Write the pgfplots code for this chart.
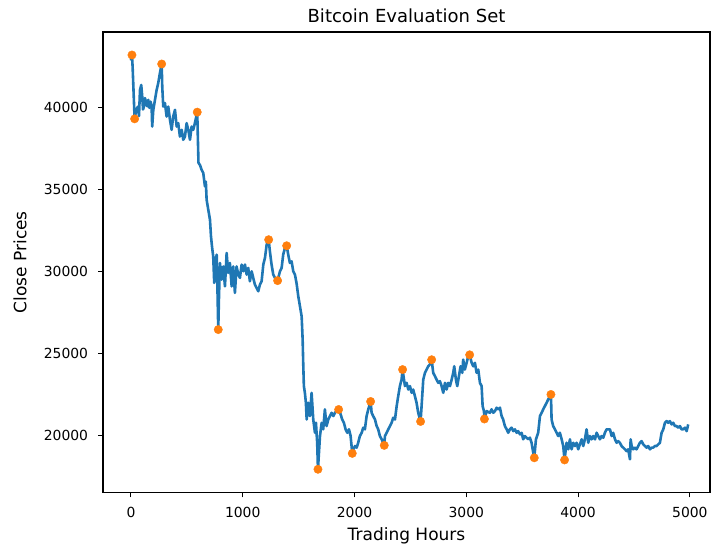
\documentclass[border=0pt]{standalone}
\usepackage{pgfplots}
\pgfplotsset{compat=1.18}
\usepackage{fontspec}
\setmainfont{DejaVu Sans}
\definecolor{mplblue}{HTML}{1F77B4}
\definecolor{mplorange}{HTML}{FF7F0E}

\pgfplotstableread{
x y
0 42900
9 43230
15 42500
20 41600
25 40700
29 40000
33 39330
48 39900
63 40080
72 39500
81 41100
92 41400
101 40690
108 39900
116 40080
125 40600
134 40380
145 40100
155 40490
165 40000
176 40380
185 40080
190 38860
200 39880
215 40490
230 41100
244 41510
259 42120
275 42680
280 41300
289 40080
304 40290
319 39470
334 40080
349 39270
364 38660
378 39470
394 39880
409 38860
423 39070
438 38250
454 38660
468 38050
483 38250
498 39070
513 38660
528 38050
543 38860
557 38660
572 39070
593 39740
599 38050
604 36650
618 36500
632 36220
647 36020
662 35200
670 35500
677 34390
692 33780
707 33170
716 32150
725 31540
736 30930
745 29310
756 30610
767 31040
774 28900
781 26460
787 28290
796 30530
811 29510
826 30320
841 29100
856 31140
870 29920
885 30530
901 29100
915 30320
930 28700
945 30320
960 29820
975 29620
990 30430
1005 30020
1020 30430
1035 29820
1049 30230
1064 29410
1080 30020
1094 29620
1109 29210
1124 29010
1139 28800
1154 29210
1169 29410
1184 30430
1199 30840
1214 31650
1232 31950
1243 31240
1258 30430
1273 29820
1288 29620
1312 29450
1333 30020
1348 30230
1362 31040
1378 31450
1393 31580
1407 31040
1422 30530
1437 30630
1452 30020
1467 29820
1482 29270
1497 28490
1512 27880
1527 27270
1536 25850
1541 24430
1547 23010
1556 22600
1565 21990
1572 20970
1586 21990
1601 21180
1616 22600
1631 20970
1646 20160
1655 20770
1666 19550
1673 17930
1691 19960
1706 20770
1720 20370
1735 21590
1750 20570
1765 20970
1780 21180
1795 21380
1810 21180
1825 21380
1840 21480
1858 21580
1876 21280
1890 20970
1905 20770
1920 20370
1935 20160
1950 20370
1965 19960
1980 18900
1989 19150
2004 19350
2019 19250
2033 19550
2048 19960
2064 20160
2078 20470
2093 20370
2108 21180
2123 21590
2144 22070
2153 21380
2167 21180
2183 20970
2198 20570
2212 20370
2227 19960
2243 19760
2266 19390
2272 19960
2287 20160
2302 20370
2317 20570
2332 20770
2346 21080
2362 20970
2377 21790
2391 22400
2406 23010
2421 23410
2430 24020
2451 23010
2466 23210
2481 22800
2496 23010
2511 22600
2525 22800
2540 22400
2555 21990
2570 21380
2591 20850
2600 21790
2615 23410
2630 23820
2645 24020
2659 24220
2674 24330
2690 24620
2704 23820
2719 23620
2734 23410
2749 23210
2764 23310
2779 23010
2794 22600
2809 23210
2824 22800
2838 23210
2854 23010
2869 23410
2883 23820
2892 24220
2907 23410
2919 23010
2934 23620
2949 24220
2964 23820
2972 24630
2987 24020
3003 24430
3017 24840
3030 24920
3048 24430
3062 24220
3077 24430
3092 23820
3107 24020
3122 23210
3137 23010
3146 21790
3158 21480
3162 21000
3182 21480
3211 21380
3226 21590
3241 21380
3256 21480
3271 21690
3286 21590
3301 21690
3316 21180
3330 20970
3345 20570
3361 20370
3375 20160
3390 20370
3405 20470
3420 20260
3435 20370
3450 20160
3464 20260
3480 20060
3495 20160
3509 19760
3524 19960
3539 19860
3554 19760
3569 19860
3584 19550
3599 18940
3608 18630
3623 19760
3643 20160
3659 21180
3674 21380
3688 21590
3703 21790
3718 21990
3733 22200
3757 22500
3763 20970
3777 20570
3793 20370
3808 20160
3822 19960
3837 20160
3853 19760
3867 19350
3879 18500
3897 19550
3912 19150
3927 19760
3942 19150
3957 19550
3972 19350
3987 19550
4001 19150
4016 19450
4032 19760
4046 19350
4061 19760
4076 20370
4091 19550
4106 19960
4121 19760
4135 19960
4151 19760
4166 20160
4180 19960
4195 19760
4210 19960
4225 19860
4240 20160
4255 20370
4270 20370
4285 20370
4300 19960
4314 20160
4330 19760
4345 19550
4359 19650
4374 19550
4389 19350
4404 19250
4419 19150
4434 19040
4448 19150
4464 18540
4470 19760
4479 19350
4493 19150
4508 19250
4523 19150
4538 19350
4553 19550
4568 19650
4583 19450
4598 19350
4613 19250
4627 19350
4643 19150
4658 19250
4672 19250
4687 19350
4702 19350
4717 19450
4732 19550
4747 20160
4762 20370
4777 20770
4792 20870
4806 20770
4821 20870
4837 20670
4851 20770
4866 20570
4881 20570
4896 20470
4911 20570
4926 20370
4940 20370
4956 20470
4971 20260
4985 20670
}\pricedata

\pgfplotstableread{
x y
9 43230
33 39330
275 42680
593 39740
781 26460
1232 31950
1312 29450
1393 31580
1673 17930
1858 21580
1980 18900
2144 22070
2266 19390
2430 24020
2591 20850
2690 24620
3030 24920
3162 21000
3608 18630
3757 22500
3879 18500
}\extremadata

\begin{document}
\begin{tikzpicture}
\begin{axis}[
  scale only axis, width=607pt, height=460.5pt,
  xmin=-250, xmax=5180, ymin=16512, ymax=44634,
  xtick={0,1000,2000,3000,4000,5000},
  ytick={20000,25000,30000,35000,40000},
  scaled ticks=false,
  /pgf/number format/1000 sep={},
  /pgf/number format/assume math mode=true,
  tick pos=left, tick align=outside, major tick length=4.9pt,
  every tick/.style={black, line width=1.1pt},
  axis line style={black, line width=1.1pt},
  ticklabel style={font=\fontsize{13.9}{16}\selectfont},
  xticklabel style={anchor=base, inner sep=0pt, yshift=-20.5pt},
  yticklabel style={anchor=east, inner sep=0pt, xshift=-9.8pt},
  every axis title/.style={at={(axis description cs:0.5,1.0217)}, anchor=base, font=\fontsize{18}{21}\selectfont},
  every axis x label/.style={at={(axis description cs:0.5,-0.1042)}, anchor=base, font=\fontsize{17}{20}\selectfont},
  every axis y label/.style={at={(axis description cs:-0.1367,0.5)}, rotate=90, anchor=center, font=\fontsize{17}{20}\selectfont},
  title={Bitcoin Evaluation Set},
  xlabel={Trading Hours},
  ylabel={Close Prices},
]
\addplot[mplblue, line width=2.6pt, line join=round, no marks] table[x=x,y=y] {\pricedata};
\addplot[only marks, mark=*, mark size=4.2pt, mplorange, mark options={draw=mplorange, fill=mplorange}] table[x=x,y=y] {\extremadata};
\coordinate (bl) at (rel axis cs:0,0);
\coordinate (tr) at (rel axis cs:1,1);
\end{axis}
\pgfresetboundingbox
\path ([shift={(-103pt,-53.5pt)}]bl) rectangle ([shift={(2pt,32pt)}]tr);
\end{tikzpicture}
\end{document}
